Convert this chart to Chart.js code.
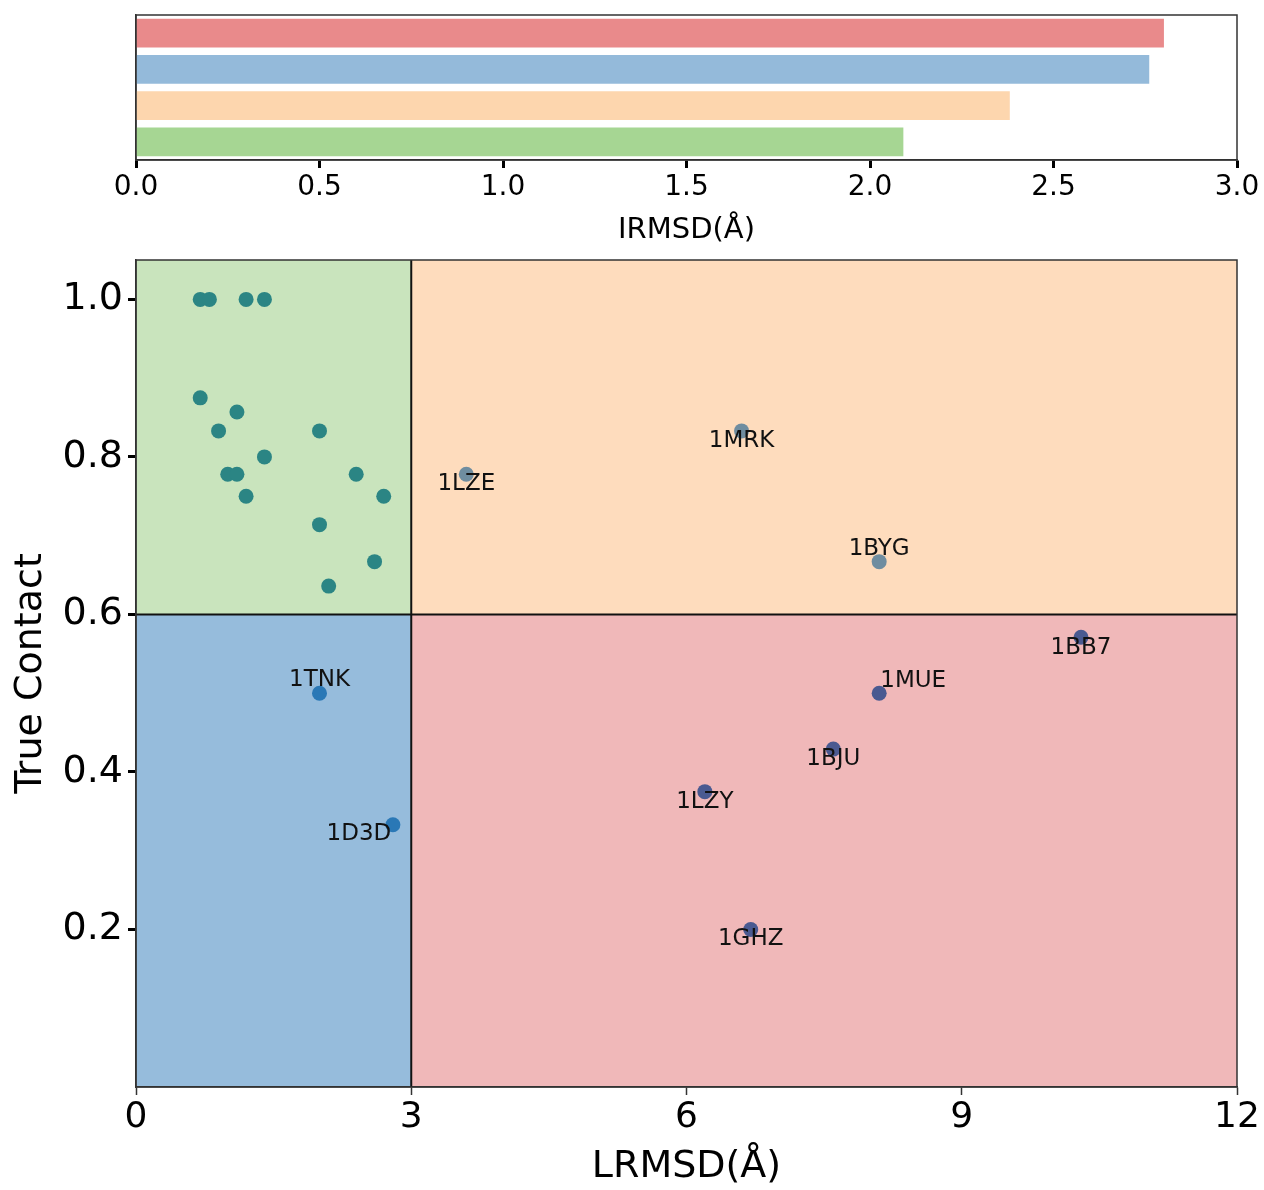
<!DOCTYPE html>
<html>
<head>
<meta charset="utf-8">
<title>LRMSD vs True Contact</title>
<script src="https://cdn.jsdelivr.net/npm/chart.js@4.4.1/dist/chart.umd.min.js"></script>
<style>
  body { margin: 0; background: #fff; }
  #wrap { position: relative; width: 1264px; height: 1190px; }
  #irmsd { position: absolute; left: 0; top: 0; }
  #scatter { position: absolute; left: 0; top: 250px; }
</style>
</head>
<body>
<div id="wrap">
  <canvas id="irmsd" width="1264" height="250"></canvas>
  <canvas id="scatter" width="1264" height="940"></canvas>
</div>
<script>
// --- data ---
var barGroups = ['Incorrect', 'Low contact', 'High LRMSD', 'Correct'];
var barIrmsd = [2.80, 2.76, 2.38, 2.09];
var irmsdTicks = [0, 0.5, 1.0, 1.5, 2.0, 2.5, 3.0];

var lrmsdCut = 3;
var contactCut = 0.6;

// green quadrant (low LRMSD, high contact)
var goodLrmsd = [0.7, 0.8, 1.2, 1.4, 0.7, 1.1, 0.9, 2.0, 1.4, 1.0, 1.1, 2.4, 1.2, 2.7, 2.0, 2.6, 2.1];
var goodContact = [1.0, 1.0, 1.0, 1.0, 0.875, 0.857, 0.833, 0.833, 0.8, 0.778, 0.778, 0.778, 0.75, 0.75, 0.714, 0.667, 0.636];

// blue quadrant (low LRMSD, low contact)
var lowNames = ['1TNK', '1D3D'];
var lowLrmsd = [2.0, 2.8];
var lowContact = [0.5, 0.333];

// orange quadrant (high LRMSD, high contact)
var highNames = ['1LZE', '1MRK', '1BYG'];
var highLrmsd = [3.6, 6.6, 8.1];
var highContact = [0.778, 0.833, 0.667];

// red quadrant (high LRMSD, low contact)
var badNames = ['1BB7', '1MUE', '1BJU', '1LZY', '1GHZ'];
var badLrmsd = [10.3, 8.1, 7.6, 6.2, 6.7];
var badContact = [0.571, 0.5, 0.429, 0.375, 0.2];

var lrmsdTicks = [0, 3, 6, 9, 12];
var contactTicks = [0.2, 0.4, 0.6, 0.8, 1.0];

// --- styles ---
var FONT = "'DejaVu Sans', sans-serif";
var barColors = ['#e98a8b', '#94bada', '#fdd6ae', '#a6d693'];
// label offset in px from the dot centre
var labelShift = {
  '1TNK': [0, -13], '1D3D': [-34, 9],
  '1LZE': [0, 10], '1MRK': [0, 10], '1BYG': [0, -13],
  '1BB7': [0, 11], '1MUE': [34, -12], '1BJU': [0, 10], '1LZY': [0, 10], '1GHZ': [0, 10]
};

function pts(xs, ys) {
  return xs.map(function (x, i) { return { x: x, y: ys[i] }; });
}
function keepTicks(list) {
  return function (scale) {
    scale.ticks = list.map(function (v) { return { value: v }; });
  };
}

var boxPlugin = {
  id: 'box',
  afterDatasetsDraw: function (chart) {
    var a = chart.chartArea, ctx = chart.ctx;
    ctx.save();
    ctx.strokeStyle = '#333';
    ctx.lineWidth = 1.5;
    ctx.strokeRect(a.left, a.top, a.right - a.left, a.bottom - a.top);
    ctx.restore();
  }
};

// ---------- top chart: IRMSD bars ----------
Chart.defaults.font.family = FONT;
Chart.defaults.color = '#000';

new Chart(document.getElementById('irmsd'), {
  type: 'bar',
  data: {
    labels: barGroups,
    datasets: [{
      data: barIrmsd,
      backgroundColor: barColors,
      barThickness: 28,
      borderWidth: 0
    }]
  },
  options: {
    indexAxis: 'y',
    responsive: false,
    animation: false,
    layout: { padding: { top: 15, right: 27, left: 0, bottom: 0 } },
    plugins: { legend: { display: false }, tooltip: { enabled: false } },
    scales: {
      x: {
        type: 'linear', min: 0, max: 3,
        afterBuildTicks: keepTicks(irmsdTicks),
        afterFit: function (s) { s.height = 90; s.paddingLeft = 0; s.paddingRight = 0; },
        ticks: {
          padding: 3,
          font: { size: 28 },
          callback: function (v) { return v.toFixed(1); }
        },
        grid: { drawOnChartArea: false, drawTicks: true, tickLength: 8, tickWidth: 3, tickColor: '#000' },
        border: { display: true, color: '#333', width: 1.5 },
        title: { display: true, text: 'IRMSD(Å)', font: { size: 29 }, padding: { top: 0, bottom: 2 } }
      },
      y: {
        afterFit: function (s) { s.width = 136; s.paddingTop = 0; s.paddingBottom = 0; },
        ticks: { display: false },
        grid: { display: false },
        border: { display: true, color: '#333', width: 1.5 }
      }
    }
  },
  plugins: [boxPlugin]
});

// ---------- bottom chart: LRMSD vs True Contact ----------
var quadrantPlugin = {
  id: 'quadrants',
  beforeDraw: function (chart) {
    var ctx = chart.ctx, xs = chart.scales.x, ys = chart.scales.y;
    var x0 = xs.getPixelForValue(xs.min), x1 = xs.getPixelForValue(lrmsdCut), x2 = xs.getPixelForValue(xs.max);
    var y0 = ys.getPixelForValue(ys.max), y1 = ys.getPixelForValue(contactCut), y2 = ys.getPixelForValue(ys.min);
    ctx.save();
    ctx.fillStyle = '#c9e4bd'; ctx.fillRect(x0, y0, x1 - x0, y1 - y0);
    ctx.fillStyle = '#fedcbd'; ctx.fillRect(x1, y0, x2 - x1, y1 - y0);
    ctx.fillStyle = '#96bcdc'; ctx.fillRect(x0, y1, x1 - x0, y2 - y1);
    ctx.fillStyle = '#f0b8b9'; ctx.fillRect(x1, y1, x2 - x1, y2 - y1);
    ctx.restore();
  },
  beforeDatasetsDraw: function (chart) {
    var ctx = chart.ctx, xs = chart.scales.x, ys = chart.scales.y, a = chart.chartArea;
    var xc = xs.getPixelForValue(lrmsdCut), yc = ys.getPixelForValue(contactCut);
    ctx.save();
    ctx.strokeStyle = '#111';
    ctx.lineWidth = 2;
    ctx.beginPath();
    ctx.moveTo(xc, a.top); ctx.lineTo(xc, a.bottom);
    ctx.moveTo(a.left, yc); ctx.lineTo(a.right, yc);
    ctx.stroke();
    ctx.restore();
  },
  afterDatasetsDraw: function (chart) {
    var ctx = chart.ctx;
    ctx.save();
    ctx.font = '23px ' + FONT;
    ctx.fillStyle = '#111';
    ctx.textAlign = 'center';
    ctx.textBaseline = 'middle';
    chart.data.datasets.forEach(function (ds, di) {
      if (!ds.names) return;
      var meta = chart.getDatasetMeta(di);
      meta.data.forEach(function (el, i) {
        var name = ds.names[i], d = labelShift[name] || [0, 0];
        ctx.fillText(name, el.x + d[0], el.y + d[1]);
      });
    });
    ctx.restore();
  }
};

new Chart(document.getElementById('scatter'), {
  type: 'scatter',
  data: {
    datasets: [
      { data: pts(goodLrmsd, goodContact), backgroundColor: '#2b8584' },
      { data: pts(lowLrmsd, lowContact), names: lowNames, backgroundColor: '#2a78b6' },
      { data: pts(highLrmsd, highContact), names: highNames, backgroundColor: '#6f8da0' },
      { data: pts(badLrmsd, badContact), names: badNames, backgroundColor: '#4a5a91' }
    ]
  },
  options: {
    responsive: false,
    animation: false,
    layout: { padding: { top: 10, right: 27, left: 0, bottom: 0 } },
    elements: { point: { radius: 7.5, borderWidth: 0, hoverRadius: 7.5 } },
    plugins: { legend: { display: false }, tooltip: { enabled: false } },
    scales: {
      x: {
        type: 'linear', min: 0, max: 12,
        afterBuildTicks: keepTicks(lrmsdTicks),
        afterFit: function (s) { s.height = 103; s.paddingLeft = 0; s.paddingRight = 0; },
        ticks: { padding: 1, font: { size: 36 } },
        grid: { drawOnChartArea: false, drawTicks: true, tickLength: 8, tickWidth: 1.5, tickColor: '#333' },
        border: { display: true, color: '#333', width: 1.5 },
        title: { display: true, text: 'LRMSD(Å)', font: { size: 38 }, padding: { top: 0, bottom: 0 } }
      },
      y: {
        type: 'linear', min: 0, max: 1.05,
        afterBuildTicks: keepTicks(contactTicks),
        afterFit: function (s) { s.width = 136; s.paddingTop = 0; s.paddingBottom = 0; },
        ticks: { padding: 5, font: { size: 38 }, callback: function (v) { return v.toFixed(1); } },
        grid: { drawOnChartArea: false, drawTicks: true, tickLength: 8, tickWidth: 3, tickColor: '#000' },
        border: { display: true, color: '#333', width: 1.5 },
        title: { display: true, text: 'True Contact', font: { size: 38 }, padding: { top: 8, bottom: 0 } }
      }
    }
  },
  plugins: [quadrantPlugin, boxPlugin]
});
</script>
</body>
</html>
